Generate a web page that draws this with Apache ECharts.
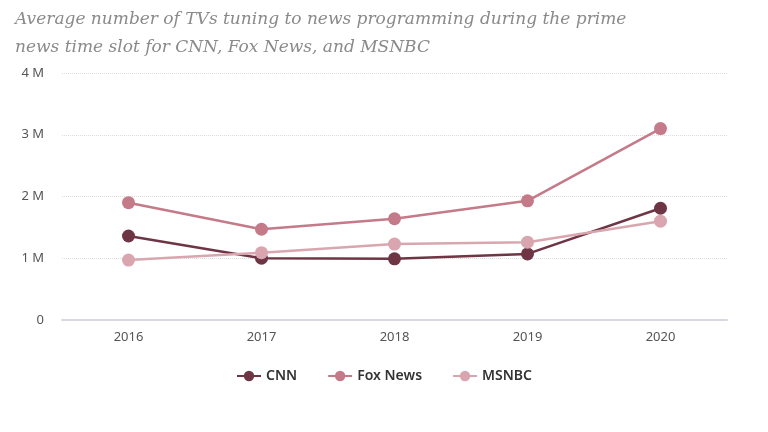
<!DOCTYPE html>
<html><head><meta charset="utf-8">
<script src="https://cdn.jsdelivr.net/npm/echarts@6/dist/echarts.min.js"></script>
<style>html,body{margin:0;padding:0;background:#fff}#c{width:768px;height:432px}</style>
</head><body><div id="c"></div>
<script>
const categories = ['2016','2017','2018','2019','2020'];
const cnn = [1.36, 1.00, 0.99, 1.07, 1.81];
const fox = [1.90, 1.47, 1.64, 1.93, 3.10];
const msnbc = [0.97, 1.09, 1.23, 1.26, 1.60];
const yTicks = [0, 1, 2, 3, 4];

const chart = echarts.init(document.getElementById('c'));
const mk = (name, data, color) => ({
  name, type: 'line', data, symbol: 'circle', symbolSize: 13,
  lineStyle: {width: 2.5, color}, itemStyle: {color}
});
chart.setOption({
  animation: false,
  title: {
    text: 'Average number of TVs tuning to news programming during the prime\nnews time slot for CNN, Fox News, and MSNBC',
    left: 10, top: 1,
    textStyle: {fontFamily: 'DejaVu Serif', fontStyle: 'italic', fontWeight: 'normal', fontSize: 17, color: '#8a8a8a', lineHeight: 28}
  },
  grid: {left: 62, right: 41, top: 73, bottom: 112},
  legend: {
    bottom: 44, left: 'center', itemGap: 30, itemWidth: 24, itemHeight: 13,
    textStyle: {fontFamily: 'Noto Sans', fontSize: 14, color: '#333', fontWeight: 600},
    data: ['CNN', 'Fox News', 'MSNBC']
  },
  xAxis: {
    type: 'category', data: categories, boundaryGap: true,
    axisLine: {lineStyle: {color: '#d6d9e2', width: 2}},
    axisTick: {show: false},
    axisLabel: {fontFamily: 'Noto Sans', fontSize: 13, color: '#555', margin: 11}
  },
  yAxis: {
    type: 'value', min: 0, max: 4, interval: 1,
    axisLabel: {fontFamily: 'Noto Sans', fontSize: 13, color: '#555', margin: 18,
      formatter: v => v === 0 ? '0' : (yTicks.includes(v) ? v + ' M' : '')},
    splitLine: {lineStyle: {type: 'dotted', color: '#dcdcdc', width: 1}},
    axisLine: {show: false}, axisTick: {show: false}
  },
  series: [
    mk('CNN', cnn, '#6e3545'),
    mk('Fox News', fox, '#c47a88'),
    mk('MSNBC', msnbc, '#d9a6b0')
  ]
});
</script></body></html>
